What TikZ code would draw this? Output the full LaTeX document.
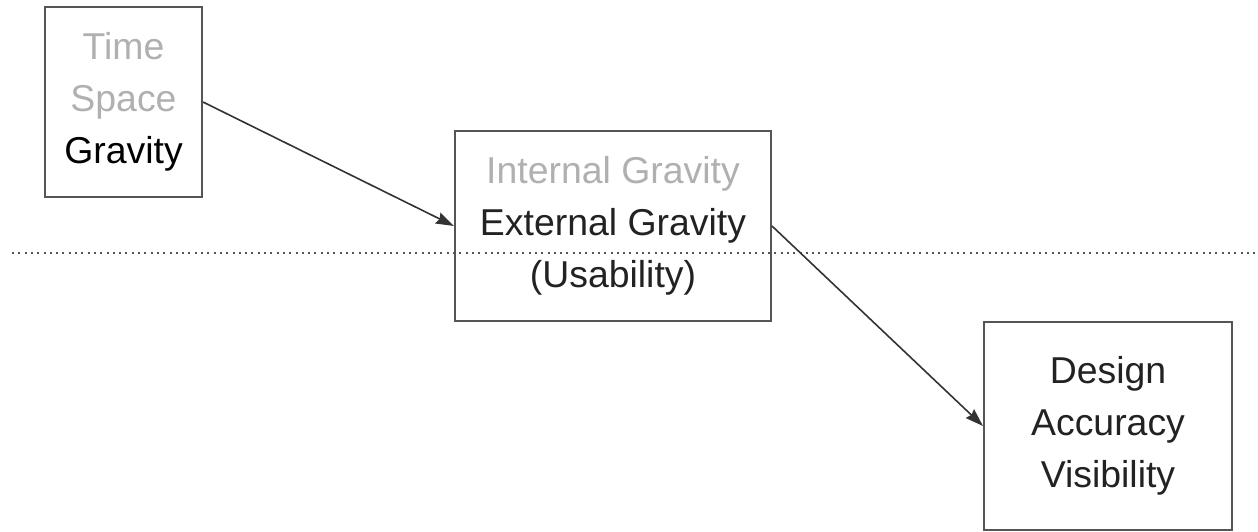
\documentclass[tikz,border=0pt]{standalone}
\usepackage{fontspec}
\setmainfont{Liberation Sans}
\usetikzlibrary{arrows.meta}

\definecolor{boxline}{HTML}{555555}
\definecolor{arrowline}{HTML}{333333}
\definecolor{faded}{HTML}{B0B0B0}
\definecolor{dark}{HTML}{222222}

\tikzset{
  box/.style={draw=boxline, line width=1pt, inner sep=0pt, align=center,
    font=\fontsize{18.7}{26}\selectfont, text=dark},
  link/.style={draw=arrowline, line width=0.8pt,
    -{Stealth[length=9pt, width=6pt, inset=1pt]}}
}

\begin{document}
\begin{tikzpicture}[x=0.5pt, y=-0.5pt]
    \useasboundingbox (0,0) rectangle (1258,531);

    % level line
    \coordinate (L) at (12,253);
    \coordinate (R) at (1258,253);
    \draw[boxline, line width=1pt, dash pattern=on 1pt off 2.15pt] (L) -- (R);

    \node[box, minimum width=78.5pt, minimum height=95pt] (basic) at (123.5,102)
        {\textcolor{faded}{Time}\\ \textcolor{faded}{Space}\\ \textcolor{black}{Gravity}};
    \node[box, minimum width=158pt, minimum height=95pt] (gravity) at (613,226)
        {\textcolor{faded}{Internal Gravity}\\ External Gravity\\ (Usability)};
    \node[box, minimum width=124pt, minimum height=104pt] (design) at (1108,426)
        {Design\\ Accuracy\\ Visibility};

    \draw[link] (basic.east) -- (gravity.west);
    \draw[link] (gravity.east) -- (design.west);
\end{tikzpicture}
\end{document}
